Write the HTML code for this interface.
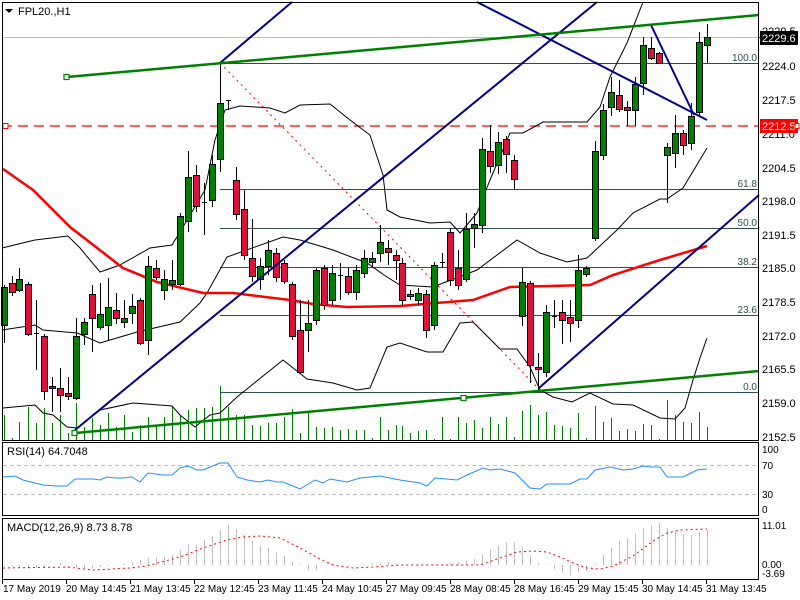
<!DOCTYPE html>
<html><head><meta charset="utf-8"><style>
html,body{margin:0;padding:0;background:#fff;}
svg{display:block;font-family:"Liberation Sans",sans-serif;font-size:11px;}
</style></head><body>
<svg id="s" width="800" height="600" xmlns="http://www.w3.org/2000/svg">
<rect x="0" y="0" width="800" height="600" fill="#fff"/>
<g id="vol"></g>
<line x1="2" y1="37.5" x2="759" y2="37.5" stroke="#c0c0c0"/>
<g stroke="#2f4f4f" stroke-width="1">
<line x1="220" y1="63.5" x2="759" y2="63.5"/>
<line x1="220" y1="189.5" x2="759" y2="189.5"/>
<line x1="220" y1="228.5" x2="759" y2="228.5"/>
<line x1="220" y1="267.5" x2="759" y2="267.5"/>
<line x1="220" y1="315.5" x2="759" y2="315.5"/>
<line x1="220" y1="392.5" x2="759" y2="392.5"/>
</g>
<g fill="#2f4f4f" text-anchor="end" font-size="10">
<text x="757" y="61">100.0</text>
<text x="757" y="187">61.8</text>
<text x="757" y="226">50.0</text>
<text x="757" y="265">38.2</text>
<text x="757" y="313">23.6</text>
<text x="757" y="390">0.0</text>
</g>
<line x1="220" y1="63" x2="538" y2="388" stroke="#ff0000" stroke-dasharray="2,4"/>
<line x1="2" y1="126" x2="759" y2="126" stroke="#ff0000" stroke-dasharray="10,6" stroke-width="1.3"/>
<rect x="3" y="123.5" width="5" height="5" fill="#fff" stroke="#ff0000"/>
<polyline fill="none" stroke="#000" stroke-width="1" points="2,248 35,240 68,236 80,248 100,272 120,265 150,248 172,245 180,232 205,190 215,140 225,110 240,106 270,108 285,113 300,105 330,104 350,120 370,135 383,175 387,210 400,217 430,223 450,222 460,233 477,213 490,180 510,133 523,133 543,122 587,122 600,107 610,77 627,43 643,2"/>
<polyline fill="none" stroke="#000" stroke-width="1" points="2,330 35,325 43,330 77,333 100,343 137,332 180,322 200,303 207,293 227,257 283,237 300,240 333,250 367,263 387,277 400,285 433,287 477,270 517,240 540,253 567,262 587,258 617,230 633,213 660,199 667,199 683,188 707,148"/>
<polyline fill="none" stroke="#000" stroke-width="1" points="3,408 35,405 43,413 53,415 67,427 77,428 100,410 133,403 172,406 180,415 195,427 210,415 220,413 237,397 283,360 307,379 333,383 357,390 370,388 387,347 400,343 427,352 443,352 460,323 473,322 500,349 517,349 530,367 540,390 553,397 572,402 590,393 613,404 633,405 660,418 675,419 685,408 693,380 700,358 707,338"/>
<polyline fill="none" stroke="#ff0000" stroke-width="2.5" points="3,169 33,190 70,227 123,268 157,282 203,293 233,293 290,300 313,304 347,307 400,306 473,300 510,287 590,285 613,275 660,260 707,246"/>
<g id="candles"></g>
<g stroke="#00008b" stroke-width="2" fill="none">
<line x1="75" y1="430" x2="597" y2="2"/>
<line x1="220" y1="63" x2="292" y2="2"/>
<line x1="539" y1="388" x2="759" y2="195"/>
<line x1="477" y1="2" x2="707" y2="120"/>
<polyline points="651,25 694,115"/>
</g>
<g stroke="#008000" stroke-width="2.5">
<line x1="67" y1="77" x2="759" y2="15"/>
<line x1="75" y1="433" x2="759" y2="371"/>
</g>
<rect x="64" y="74.5" width="5" height="5" fill="#fff" stroke="#008000" stroke-width="1.2"/>
<rect x="72" y="430.5" width="5" height="5" fill="#fff" stroke="#008000" stroke-width="1.2"/>
<rect x="461" y="395.5" width="5" height="5" fill="#fff" stroke="#008000" stroke-width="1.2"/>
<polygon points="5,9 13,9 9,13" fill="#000"/>
<text x="18" y="15" fill="#000">FPL20.,H1</text>
<g fill="none" stroke="#000" stroke-width="1">
<rect x="2.5" y="2.5" width="756" height="438"/>
<rect x="2.5" y="442.5" width="756" height="73"/>
<rect x="2.5" y="518.5" width="756" height="61"/>
</g>
<g fill="#000" font-size="11">
<text x="762" y="35">2229.5</text>
<text x="762" y="70">2224.0</text>
<text x="762" y="104">2217.5</text>
<text x="762" y="138">2211.0</text>
<text x="762" y="172">2204.5</text>
<text x="762" y="205">2198.0</text>
<text x="762" y="239">2191.5</text>
<text x="762" y="272">2185.0</text>
<text x="762" y="306">2178.5</text>
<text x="762" y="340">2172.0</text>
<text x="762" y="373">2165.5</text>
<text x="762" y="407">2159.0</text>
<text x="762" y="441">2152.5</text>
</g>
<g stroke="#000"><line x1="759" y1="37.5" x2="763" y2="37.5"/></g>
<rect x="760" y="31" width="38" height="14" fill="#000"/>
<text x="762" y="42" fill="#fff">2229.6</text>
<rect x="760" y="119" width="38" height="14" fill="#ff0000"/>
<text x="762" y="130" fill="#fff">2212.5</text>
<rect x="795" y="123.5" width="4" height="5" fill="#fff" stroke="#ff0000"/>
<g stroke="#c0c0c0" stroke-dasharray="4,3"><line x1="3" y1="465.5" x2="758" y2="465.5"/><line x1="3" y1="494.5" x2="758" y2="494.5"/></g>
<text x="7" y="455" fill="#000">RSI(14) 64.7048</text>
<polyline fill="none" stroke="#1e90ff" stroke-width="1" points="3,477 15,476 23,480 43,485 57,486 67,486 75,479 93,479 100,480 107,477 115,478 123,478 132,477 140,482 148,473 163,475 172,475 180,468 188,466 197,470 203,470 220,463 228,463 237,477 247,480 260,482 268,480 277,482 283,482 300,489 315,480 323,483 330,479 347,482 360,478 380,476 400,480 420,483 427,486 435,478 457,480 467,475 483,468 490,470 500,469 515,473 530,488 540,489 547,484 570,484 580,479 587,479 595,470 610,467 623,470 633,469 643,466 650,467 660,467 667,477 683,477 697,470 707,469"/>
<g fill="#000" font-size="10"><text x="762" y="453">100</text><text x="762" y="469">70</text><text x="762" y="498">30</text><text x="762" y="513">0</text></g>
<g id="macd"></g>
<polyline fill="none" stroke="#ff0000" stroke-dasharray="2,3" points="3,568 67,567 93,570 130,568 147,566 180,557 203,548 227,540 243,537 260,536 280,538 300,548 320,559 333,565 353,568 373,567 400,565 480,565 500,558 517,552 533,551 547,552 560,557 573,563 587,568 600,569 613,566 633,556 653,541 667,533 680,530 707,529"/>
<text x="7" y="531" fill="#000">MACD(12,26,9) 8.73 8.78</text>
<g fill="#000" font-size="10"><text x="762" y="529">11.01</text><text x="762" y="568">0.00</text><text x="762" y="577">-3.69</text></g>
<g fill="#000" font-size="10">
<text x="3" y="592">17 May 2019</text>
<text x="66" y="592">20 May 14:45</text>
<text x="130" y="592">21 May 13:45</text>
<text x="194" y="592">22 May 12:45</text>
<text x="258" y="592">23 May 11:45</text>
<text x="322" y="592">24 May 10:45</text>
<text x="386" y="592">27 May 09:45</text>
<text x="450" y="592">28 May 08:45</text>
<text x="514" y="592">28 May 16:45</text>
<text x="578" y="592">29 May 15:45</text>
<text x="642" y="592">30 May 14:45</text>
<text x="706" y="592">31 May 13:45</text>
</g>
<g stroke="#000" id="ticks"></g>
</svg>
<script>
var D=[[4,'g',287,325,285,343,415],[12,'r',283,292,276,296,438],[19,'g',279,290,268,292,422],[28,'r',284,334,282,336,407],[36,'d',333,333,300,370,423],[44,'r',336,391,334,400,408],[52,'g',386,388,377,412,423],[60,'r',388,395,368,412,415],[68,'r',393,396,377,400,433],[76,'g',336,398,318,400,403],[84,'g',322,334,318,345,427],[92,'r',294,318,285,352,418],[100,'g',314,327,283,330,425],[108,'g',307,325,278,340,413],[116,'r',310,318,293,324,427],[124,'g',318,322,300,328,415],[132,'g',306,313,294,324,432],[140,'r',300,343,298,345,425],[148,'g',266,340,256,355,417],[156,'r',268,277,260,280,427],[164,'g',279,290,270,300,417],[172,'g',280,284,260,290,407],[180,'g',216,284,213,286,415],[188,'g',177,221,151,232,410],[196,'r',175,206,165,212,408],[204,'d',202,202,183,235,408],[212,'g',164,200,155,207,407],[220,'g',103,159,63,172,386],[228,'d',100,100,100,110,407],[236,'r',180,214,167,220,415],[244,'r',209,255,190,260,415],[252,'r',258,276,219,282,425],[260,'g',266,279,258,290,426],[268,'g',250,266,240,275,423],[276,'r',253,277,248,282,423],[284,'r',263,281,260,284,417],[292,'r',284,336,282,340,409],[300,'r',330,372,300,374,433],[308,'g',323,330,300,352,413],[316,'g',270,320,268,325,427],[324,'r',268,305,265,310,428],[332,'g',273,300,265,305,427],[340,'d',275,275,263,300,430],[348,'r',276,292,268,295,429],[356,'g',270,292,265,300,430],[364,'g',258,273,250,278,430],[372,'g',258,262,252,268,438],[380,'g',242,253,225,262,417],[388,'r',248,252,240,265,430],[396,'r',255,260,250,280,425],[402,'r',263,300,258,306,426],[410,'r',294,296,290,300,433],[418,'g',293,300,288,306,431],[426,'r',294,330,290,338,430],[434,'g',265,325,262,330,439],[442,'d',262,262,253,268,417],[450,'r',232,280,228,286,439],[458,'r',268,285,250,290,417],[466,'g',229,279,213,282,423],[474,'g',224,228,213,248,420],[482,'g',149,225,138,233,428],[490,'r',151,166,125,173,417],[498,'g',142,165,132,174,424],[506,'r',139,154,136,173,417],[514,'r',160,179,155,189,437],[522,'g',282,316,268,326,411],[530,'r',283,365,281,383,405],[538,'r',367,369,353,392,415],[546,'g',312,372,305,377,412],[554,'d',316,316,300,328,425],[562,'r',312,320,300,344,426],[570,'r',317,323,300,342,428],[578,'g',270,320,255,328,413],[586,'g',268,274,266,277,438],[595,'g',151,238,141,241,406],[603,'g',110,155,104,160,422],[611,'g',92,107,77,116,418],[619,'r',95,109,80,112,431],[627,'r',107,110,101,126,429],[635,'g',84,110,77,126,431],[643,'g',45,83,37,95,424],[651,'r',48,58,37,60,425],[659,'r',53,63,52,64,439],[667,'g',147,155,143,203,400],[675,'g',133,153,115,168,415],[683,'r',133,145,130,155,422],[691,'g',116,143,103,150,423],[699,'g',42,112,32,115,412],[707,'g',37,45,24,63,427]];
var NS='http://www.w3.org/2000/svg';
function el(p,t,a){var e=document.createElementNS(NS,t);for(var k in a)e.setAttribute(k,a[k]);p.appendChild(e);return e;}
var C=document.getElementById('candles'),V=document.getElementById('vol'),M=document.getElementById('macd');
var mk=[[3,566],[40,568],[60,563],[80,569],[100,567],[130,563],[148,558],[163,557],[172,555],[180,550],[188,544],[196,545],[204,540],[212,536],[220,530],[228,525],[236,529],[244,535],[252,541],[260,546],[268,548],[276,552],[284,556],[292,562],[300,564],[308,570],[316,570],[324,565],[332,564],[340,566],[388,562],[396,564],[420,565],[440,565],[475,559],[483,554],[492,548],[499,545],[507,542],[515,542],[523,548],[532,558],[540,565],[548,564],[555,570],[563,573],[572,576],[579,572],[587,571],[595,564],[603,555],[612,547],[619,541],[628,538],[636,533],[643,528],[652,525],[659,523],[667,528],[676,532],[683,534],[692,535],[699,532],[707,530]];
function mi(x){for(var i=1;i<mk.length;i++){if(x<=mk[i][0]){var a=mk[i-1],b=mk[i];return a[1]+(b[1]-a[1])*(x-a[0])/(b[0]-a[0]);}}return mk[mk.length-1][1];}
D.forEach(function(d){
var x=d[0];
el(V,'line',{x1:x+.5,y1:440,x2:x+.5,y2:d[6],stroke:'#008000','stroke-width':1});
var y=mi(x);el(M,'line',{x1:x+.5,y1:565,x2:x+.5,y2:y,stroke:'#c0c0c0','stroke-width':1});
el(C,'line',{x1:x+.5,y1:d[4],x2:x+.5,y2:d[5],stroke:'#000','stroke-width':1});
if(d[1]=='d'){el(C,'line',{x1:x-2,y1:d[2]+.5,x2:x+3,y2:d[2]+.5,stroke:'#000','stroke-width':1});}
else{var h=Math.max(2,d[3]-d[2]);el(C,'rect',{x:x-2.5,y:d[2]+.5,width:6,height:h,fill:d[1]=='g'?'#008000':'#dc143c',stroke:'#000','stroke-width':1});}
});
var T=document.getElementById('ticks');[2,66,130,194,258,322,386,450,514,578,642,706].forEach(function(x){el(T,'line',{x1:x+.5,y1:580,x2:x+.5,y2:584});});
</script>
</body></html>
